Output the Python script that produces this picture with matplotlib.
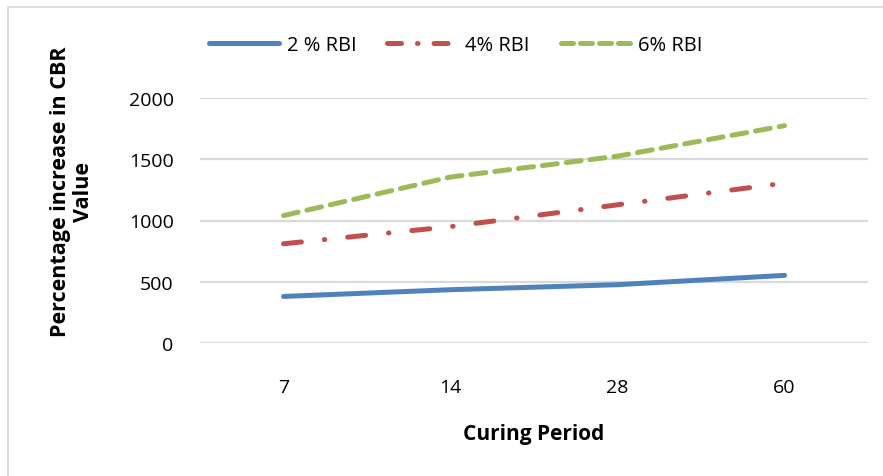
import matplotlib.pyplot as plt
from matplotlib.lines import Line2D

# curing period (days) vs % increase in CBR
curing_days = ["7", "14", "28", "60"]
rbi_2 = [380, 435, 476, 552]
rbi_4 = [810, 950, 1128, 1305]
rbi_6 = [1040, 1355, 1525, 1774]
y_ticks = [0, 500, 1000, 1500, 2000]

plt.rcParams["font.family"] = ["Open Sans", "DejaVu Sans"]

fig = plt.figure(figsize=(8.83, 4.77), dpi=100)
ax = fig.add_axes([200 / 883, 1 - 344 / 477, 668 / 883, 245 / 477])

x = list(range(len(curing_days)))
ax.plot(x, rbi_2, color="#4F81BD", lw=3.6, solid_capstyle="round", label="2 % RBI")
ax.plot(x, rbi_4, color="#C0504D", lw=3.6, dash_capstyle="round",
        dashes=(3.6, 4.6, 0.1, 4.6), label="4% RBI")
ax.plot(x, rbi_6, color="#9BBB59", lw=3.6, dash_capstyle="round",
        dashes=(3.0, 1.8), label="6% RBI")

ax.set_xlim(-0.5, len(curing_days) - 0.5)
ax.set_ylim(0, 2000)
ax.set_xticks(x)
ax.set_xticklabels(curing_days)
ax.set_yticks(y_ticks)
ax.tick_params(length=0, labelsize=14, colors="#000000")
ax.tick_params(axis="x", pad=25)
ax.tick_params(axis="y", pad=19)
ax.grid(axis="y", color="#D9D9D9", lw=1.6)
ax.set_axisbelow(True)
for s in ax.spines.values():
    s.set_visible(False)

fig.text(72 / 883, 1 - 192 / 477, "Percentage increase in CBR\nValue",
         rotation=90, ha="center", va="center", multialignment="center",
         fontsize=15.5, fontweight="bold", linespacing=1.1)
fig.text(534 / 883, 1 - 435 / 477, "Curing Period", ha="center", va="center",
         fontsize=15, fontweight="bold")

handles = [
    Line2D([], [], color="#4F81BD", lw=3.6, solid_capstyle="round"),
    Line2D([], [], color="#C0504D", lw=3.6, dash_capstyle="round", dashes=(2.8, 3.2, 0.1, 3.2)),
    Line2D([], [], color="#9BBB59", lw=3.6, dash_capstyle="round", dashes=(2.4, 1.4)),
]
fig.legend(handles, ["2 % RBI", "4% RBI", "6% RBI"], loc="center left",
           bbox_to_anchor=(209 / 883, 1 - 46 / 477), ncol=3, frameon=False,
           fontsize=14.5, handlelength=3.5, handletextpad=0.35, columnspacing=1.55,
           borderpad=0, borderaxespad=0)

# chart area border (top and left edges)
fig.add_artist(Line2D([8 / 883, 8 / 883, 1], [0, 1 - 8 / 477, 1 - 8 / 477],
                      transform=fig.transFigure, color="#D9D9D9", lw=1.2))

fig.savefig("out.png", dpi=100)
